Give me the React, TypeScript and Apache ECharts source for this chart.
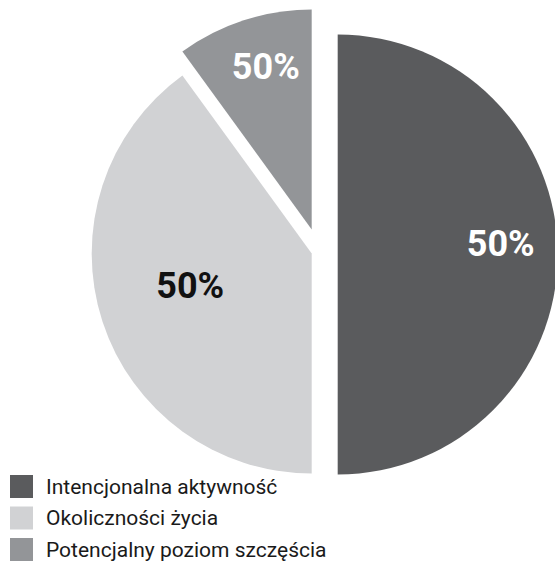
import React, { useEffect, useRef } from "react";
import * as echarts from "echarts";

const categories = [
  "Intencjonalna aktywność",
  "Okoliczności życia",
  "Potencjalny poziom szczęścia",
];
const values = [50, 40, 10];
const sliceLabels = ["50%", "50%", "50%"];
const colors = ["#5a5b5d", "#d1d2d4", "#939598"];
const labelColors = ["#ffffff", "#111111", "#ffffff"];

// each slice drawn as its own pie (exploded layout)
const centers: [number, number][] = [
  [337.7, 254.5],
  [311.7, 253.5],
  [311.7, 229.5],
];
const labelShift: [number, number][] = [
  [50, -11],
  [-14, -2.5],
  [-11, -55],
];

const FONT = "Roboto, 'Liberation Sans', sans-serif";

export default function App() {
  const ref = useRef<HTMLDivElement>(null);
  useEffect(() => {
    if (!ref.current) return;
    const chart = echarts.init(ref.current, undefined, { renderer: "svg" });
    const series = categories.map((_, k) => ({
      type: "pie",
      silent: true,
      center: centers[k],
      radius: [0, 220],
      startAngle: 90,
      clockwise: true,
      avoidLabelOverlap: false,
      labelLine: { show: false },
      labelLayout: { dx: labelShift[k][0], dy: labelShift[k][1] },
      data: categories.map((name, i) => ({
        name,
        value: values[i],
        itemStyle: {
          color: i === k ? colors[i] : "rgba(0,0,0,0)",
          borderWidth: 0,
        },
        label: {
          show: i === k,
          position: "inside",
          formatter: () => sliceLabels[i],
          color: labelColors[i],
          fontFamily: FONT,
          fontWeight: "bold",
          fontSize: 36,
        },
      })),
    }));
    chart.setOption({
      animation: false,
      backgroundColor: "#ffffff",
      legend: {
        orient: "vertical",
        left: 10,
        top: 475,
        height: 120,
        padding: 0,
        itemWidth: 23,
        itemHeight: 23,
        itemGap: 8.5,
        icon: "rect",
        selectedMode: false,
        textStyle: {
          fontFamily: FONT,
          fontSize: 21,
          lineHeight: 23,
          color: "#1a1a1a",
          padding: [0, 0, 0, 8],
        },
        data: categories.map((name, i) => ({
          name,
          itemStyle: { color: colors[i], opacity: 1 },
        })),
      },
      series,
    });
    return () => chart.dispose();
  }, []);
  return (
    <div
      ref={ref}
      style={{ position: "fixed", left: 0, top: 0, width: 555, height: 565 }}
    />
  );
}
